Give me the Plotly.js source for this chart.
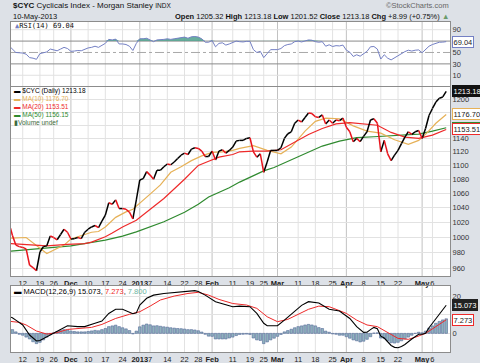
<!DOCTYPE html>
<html><head><meta charset="utf-8">
<script src="https://cdn.plot.ly/plotly-3.0.1.min.js"></script>
<style>html,body{margin:0;padding:0;background:#dde1e7;}#chart{width:480px;height:363px;}</style>
</head><body><div id="chart"></div>
<script>
// ---- trading days shown (Nov 6 2012 .. May 10 2013) ----
const nov2012 = [6,7,8,9,12,13,14,15,16,19,20,21,23,26,27,28,29,30];
const dec2012 = [3,4,5,6,7,10,11,12,13,14,17,18,19,20,21,24,26,27,28,31];
const jan2013 = [2,3,4,7,8,9,10,11,14,15,16,17,18,22,23,24,25,28,29,30,31];
const feb2013 = [1,4,5,6,7,8,11,12,13,14,15,19,20,21,22,25,26,27,28];
const mar2013 = [1,4,5,6,7,8,11,12,13,14,15,18,19,20,21,22,25,26,27,28];
const apr2013 = [1,2,3,4,5,8,9,10,11,12,15,16,17,18,19,22,23,24,25,26,29,30];
const may2013 = [1,2,3,6,7,8,9,10];

// ---- daily closes of $CYC ----
const close = [1020,1003,990,988,987,985,964,961,957,981,
 988,989,1002,1000,997,1004,1011,1007,998,998.5,
 1000,998.5,1007,1011,1014,1016,1013,1022,1030,1047,
 1045,1051,1039,1039,1038,1034,1025,1051,1079,1081,
 1091,1086,1080,1093,1093,1098,1102,1101,1105,1110,
 1115,1118,1116,1124,1126,1125,1121,1113,1113,1121,
 1108,1121,1123,1118,1122,1127,1136,1137,1137,1140,
 1141,1120,1112,1117,1090,1105,1122,1122,1122,1126,
 1140,1147,1150,1163,1168,1165,1172,1179,1178,1173,
 1172,1176,1162,1168,1163,1168,1167,1171,1157,1150,
 1135,1140,1135,1143,1150,1168,1170,1163,1120,1137,
 1117,1107,1115,1122,1132,1142,1150,1146,1150,1152,
 1140,1155,1175,1186,1196,1202,1204.19,1213.18];

// ---- moving averages (read at sample days) ----
const ma10Days = ['2012-11-06','2012-11-13','2012-11-21','2012-11-26','2012-11-29','2012-12-03','2012-12-06','2012-12-11','2012-12-13','2012-12-17','2012-12-20','2012-12-26','2012-12-28','2013-01-02','2013-01-07','2013-01-10','2013-01-15','2013-01-18','2013-01-24','2013-01-29','2013-02-01','2013-02-06','2013-02-11','2013-02-13','2013-02-20','2013-02-26','2013-03-04','2013-03-07','2013-03-13','2013-03-18','2013-03-21','2013-03-27','2013-04-01','2013-04-03','2013-04-09','2013-04-15','2013-04-19','2013-04-25','2013-04-30','2013-05-02','2013-05-07','2013-05-10'];
const ma10 = [999,1000,979,983,990,998,1002,1007,1008,1014,1027,1034.5,1038,1046,1059,1072,1090,1098,1107,1114,1119,1120,1122,1125,1129,1122,1117,1127,1151,1166,1171,1170,1165,1159,1151,1148,1138,1131,1137,1146,1163,1176.70];
const ma20Days = ['2012-11-06','2012-11-15','2012-11-21','2012-11-30','2012-12-07','2012-12-11','2012-12-17','2012-12-19','2012-12-24','2012-12-31','2013-01-04','2013-01-11','2013-01-22','2013-01-28','2013-01-31','2013-02-05','2013-02-11','2013-02-13','2013-02-20','2013-02-26','2013-03-04','2013-03-08','2013-03-14','2013-03-20','2013-03-26','2013-04-02','2013-04-08','2013-04-12','2013-04-18','2013-04-24','2013-04-30','2013-05-06','2013-05-10'];
const ma20 = [992,990,989,991,992,994,1001,1006,1014,1023,1034,1053,1080,1100,1106,1112,1116,1120,1121,1121,1123,1134,1146,1155,1162,1164,1162,1160,1149,1142,1140,1145,1153.51];
const ma50Days = ['2012-11-06','2012-11-15','2012-12-03','2012-12-17','2012-12-24','2012-12-31','2013-01-11','2013-01-22','2013-01-28','2013-01-31','2013-02-08','2013-02-13','2013-02-21','2013-02-25','2013-02-28','2013-03-07','2013-03-13','2013-03-20','2013-03-27','2013-04-04','2013-04-11','2013-04-18','2013-04-24','2013-04-30','2013-05-06','2013-05-10'];
const ma50 = [982,985,989,996.6,1001.8,1007.5,1021,1034,1045,1055,1068,1076,1088,1092,1097,1108,1118,1128.5,1136,1141,1142.5,1144,1145,1146.5,1151,1156.15];

// ---- RSI(14), daily ----
const rsi = [62,56,50,49.5,49,47,41,40,38,48,
 50,51,56,55,53,56,59,57,52,52.5,
 53.5,53,56,58,59,61,59,63,66,73,
 72,73.5,65,65,64,61,53.5,66,74,74,
 75,72,69,72,72,73,74,73,74,75,
 76,77,75,77.5,78,77,74,68,68,71,
 60,66,67,63,65,67,70,69,68.5,69.5,
 69.5,55,50,52,41,48,55,55,55,57,
 62,64,65,69,70,68.5,70.5,72,71.5,69,
 68,69,61,63.5,60.5,62,61.5,63,54,50.5,
 43,46,43.5,48,52,60,60.5,56,38.5,46,
 40,37,41,44,48,51.5,54,52.5,54,54.5,
 49.5,55,61,64,66,68,68.2,69.04];

// ---- MACD(12,26,9) ----
const macdDays = ['2012-11-06','2012-11-07','2012-11-08','2012-11-12','2012-11-14','2012-11-16','2012-11-19','2012-11-21','2012-11-26','2012-11-28','2012-11-30','2012-12-05','2012-12-07','2012-12-12','2012-12-14','2012-12-18','2012-12-20','2012-12-24','2012-12-28','2012-12-31','2013-01-02','2013-01-04','2013-01-08','2013-01-11','2013-01-16','2013-01-22','2013-01-25','2013-01-28','2013-01-30','2013-02-04','2013-02-07','2013-02-11','2013-02-13','2013-02-19','2013-02-21','2013-02-25','2013-02-26','2013-03-01','2013-03-05','2013-03-08','2013-03-12','2013-03-14','2013-03-19','2013-03-22','2013-03-27','2013-04-02','2013-04-04','2013-04-08','2013-04-09','2013-04-10','2013-04-11','2013-04-12','2013-04-15','2013-04-16','2013-04-17','2013-04-18','2013-04-19','2013-04-22','2013-04-23','2013-04-24','2013-04-26','2013-04-30','2013-05-01','2013-05-02','2013-05-03','2013-05-06','2013-05-07','2013-05-08','2013-05-09','2013-05-10'];
const macd = [9.0,8.4,7.1,4.5,-0.9,-4.1,-3.8,-1.8,0.5,2.5,4.1,3.6,3.6,5.4,6.6,10.7,12.9,12.9,10.5,11.0,15.2,18.8,20.5,21.4,22.0,22.7,22.9,22.5,20.5,17.0,15.2,14.3,14.6,14.3,10.7,5.4,4.1,4.1,7.1,11.6,15.0,17.0,16.3,12.9,12.0,8.0,3.6,0.5,0.6,2.0,3.2,2.5,-1.5,-2.5,-4.5,-6.5,-7.5,-7.7,-7.0,-6.0,-3.0,-0.5,-0.5,0.0,3.0,5.4,8.0,10.7,12.8,15.073];
const signalDays = ['2012-11-06','2012-11-07','2012-11-09','2012-11-13','2012-11-16','2012-11-21','2012-11-27','2012-11-30','2012-12-06','2012-12-11','2012-12-14','2012-12-20','2012-12-27','2013-01-02','2013-01-07','2013-01-10','2013-01-16','2013-01-23','2013-01-28','2013-01-31','2013-02-05','2013-02-11','2013-02-15','2013-02-21','2013-02-26','2013-03-01','2013-03-06','2013-03-11','2013-03-14','2013-03-19','2013-03-22','2013-03-26','2013-04-01','2013-04-04','2013-04-09','2013-04-12','2013-04-17','2013-04-22','2013-04-25','2013-04-29','2013-05-02','2013-05-07','2013-05-10'];
const signal = [6.5,6.25,5.9,4.5,1.25,-0.4,0.4,2.1,2.7,3.2,4.8,8.0,10.2,11.6,14.6,17.9,20.0,21.4,22.0,20.5,18.2,16.0,15.2,13.4,8.9,6.25,7.5,10.2,12.9,14.6,14.3,12.9,10.7,7.1,4.5,3.6,0.4,-2.7,-3.2,-2.1,0.0,3.6,7.273];
const hist = [2.5,2.0,0.8,-0.5,-1.0,-2.0,-3.0,-4.5,-5.5,-4.8,
 -3.5,-2.0,-0.8,0.3,1.0,1.5,2.0,1.8,1.2,1.0,
 0.8,0.8,0.8,1.0,1.3,1.6,1.4,2.0,2.6,3.6,
 4.0,4.4,3.6,3.0,2.4,1.5,-0.3,1.2,3.5,4.4,
 5.0,4.6,4.0,4.1,3.8,3.5,3.3,3.0,2.8,2.6,
 2.5,2.3,2.0,2.0,1.8,1.4,0.7,-0.5,-1.5,-1.6,
 -3.0,-3.0,-3.0,-3.0,-2.5,-2.0,-1.2,-0.6,-0.5,-0.4,
 -0.6,-2.5,-3.5,-3.8,-5.5,-4.6,-3.5,-2.6,-1.6,-0.6,
 0.8,1.5,2.2,3.0,3.6,4.0,4.5,4.8,4.5,4.0,
 3.1,2.6,1.2,0.6,-0.3,-0.5,-1.0,-1.0,-1.8,-2.6,
 -3.5,-4.0,-4.6,-4.2,-3.2,-1.8,0.2,0.3,-2.5,-2.8,
 -4.0,-5.0,-5.2,-4.8,-4.0,-3.0,-2.0,-1.0,0.0,0.6,
 0.3,1.2,2.8,4.0,5.4,6.4,7.2,7.8];

// ---- axis labels ----
const tickDates = ['2012-11-12','2012-11-19','2012-11-26','2012-12-03','2012-12-10','2012-12-17','2012-12-24','2013-01-02','2013-01-07','2013-01-14','2013-01-22','2013-01-28','2013-02-01','2013-02-11','2013-02-19','2013-02-25','2013-03-01','2013-03-11','2013-03-18','2013-03-25','2013-04-01','2013-04-08','2013-04-15','2013-04-22','2013-05-01','2013-05-06'];
const tickLabels = ['12','19','26','<b>Dec</b>','10','17','24','<b>2013</b>','7','14','22','28','<b>Feb</b>','11','19','25','<b>Mar</b>','11','18','25','<b>Apr</b>','8','15','22','<b>May</b>','6'];
const monthStarts = ['2012-12-03','2013-01-02','2013-02-01','2013-03-01','2013-04-01','2013-05-01'];
const priceTicks = [960,980,1000,1020,1040,1060,1080,1100,1120,1140,1160,1180,1200];
const priceTickText = ['960','980','1000','1020','1040','1060','1080','1100','1120','1140','','','1200'];
const rsiTicks = [10,30,50,70,90];
const rsiTickText = ['10','30','50','','90'];
const macdTicks = [0,10,20];
const macdTickText = ['0','','20'];

// ---- build ----
const pad = n => (n < 10 ? '0' : '') + n;
const dates = [].concat(
  nov2012.map(d => '2012-11-' + pad(d)), dec2012.map(d => '2012-12-' + pad(d)),
  jan2013.map(d => '2013-01-' + pad(d)), feb2013.map(d => '2013-02-' + pad(d)),
  mar2013.map(d => '2013-03-' + pad(d)), apr2013.map(d => '2013-04-' + pad(d)),
  may2013.map(d => '2013-05-' + pad(d)));

// up / down colored price segments
const upX = [], upY = [], dnX = [], dnY = [];
for (let i = 1; i < close.length; i++) {
  const up = close[i] >= close[i-1];
  const X = up ? upX : dnX, Y = up ? upY : dnY;
  X.push(dates[i-1], dates[i], dates[i]); Y.push(close[i-1], close[i], null);
}

const FONT = 'Liberation Sans, Arial, sans-serif';
const BLUE = '#7480c4', TAN = '#e6b157', RED = '#ee2a2a', GREEN = '#2f8a2f';

const traces = [
  {x: dates, y: dates.map(() => 70), xaxis: 'x', yaxis: 'y', mode: 'lines', line: {width: 0}, hoverinfo: 'skip'},
  {x: dates, y: rsi.map(v => Math.max(v, 70)), xaxis: 'x', yaxis: 'y', mode: 'lines', line: {width: 0}, fill: 'tonexty', fillcolor: 'rgba(78,160,140,0.85)'},
  {x: dates, y: rsi, xaxis: 'x', yaxis: 'y', mode: 'lines', line: {color: BLUE, width: 1}},
  {x: ma50Days, y: ma50, xaxis: 'x2', yaxis: 'y2', mode: 'lines', line: {color: GREEN, width: 1.2}},
  {x: ma10Days, y: ma10, xaxis: 'x2', yaxis: 'y2', mode: 'lines', line: {color: TAN, width: 1.2}},
  {x: ma20Days, y: ma20, xaxis: 'x2', yaxis: 'y2', mode: 'lines', line: {color: RED, width: 1.2}},
  {x: upX, y: upY, xaxis: 'x2', yaxis: 'y2', mode: 'lines', line: {color: '#000', width: 1.5}, connectgaps: false},
  {x: dnX, y: dnY, xaxis: 'x2', yaxis: 'y2', mode: 'lines', line: {color: '#e8141c', width: 1.5}, connectgaps: false},
  {x: dates, y: hist, xaxis: 'x3', yaxis: 'y3', type: 'bar', marker: {color: '#8fb2bd', line: {color: '#55699a', width: 0.6}}},
  {x: signalDays, y: signal, xaxis: 'x3', yaxis: 'y3', mode: 'lines', line: {color: RED, width: 1}},
  {x: macdDays, y: macd, xaxis: 'x3', yaxis: 'y3', mode: 'lines', line: {color: '#000', width: 1.1}}
];

const xBase = (anchor, labels) => ({
  type: 'category', categoryorder: 'array', categoryarray: dates, anchor: anchor,
  range: [0.6, 128.1], tickvals: tickDates, ticktext: tickLabels, showticklabels: labels,
  tickangle: 0, showgrid: false, showline: true, mirror: true,
  linecolor: '#8c8c8c', linewidth: 1, ticks: '', zeroline: false,
  tickfont: {family: FONT, size: 7.5, color: '#222'}, fixedrange: true
});
const yBase = (anchor) => ({
  anchor: anchor, side: 'right', showgrid: true, gridcolor: '#e2e2e2', showline: true,
  mirror: true, linecolor: '#8c8c8c', linewidth: 1, ticks: '', zeroline: false,
  tickfont: {family: FONT, size: 7.5, color: '#333'}, fixedrange: true
});

const shapes = [];
['x', 'x2', 'x3'].forEach((xa, k) => {
  const ya = ['y', 'y2', 'y3'][k];
  tickDates.forEach(d => {
    const isMonth = monthStarts.indexOf(d) >= 0;
    shapes.push({type: 'line', xref: xa, yref: ya + ' domain', x0: d, x1: d, y0: 0, y1: 1,
      line: {color: isMonth ? '#c2c2c2' : '#e2e2e2', width: 1}, layer: 'below'});
  });
});
[[10, '#e2e2e2', 'solid'], [90, '#e2e2e2', 'solid'], [70, '#8a8a8a', 'solid'], [30, '#8a8a8a', 'solid'], [50, '#a8a8a8', 'dashdot']].forEach(l =>
  shapes.push({type: 'line', xref: 'x domain', yref: 'y', x0: 0, x1: 1, y0: l[0], y1: l[0], line: {color: l[1], width: 1, dash: l[2]}, layer: 'below'}));

const px = v => (v - 11) / 439, py = v => (352 - v) / 330;
const note = (x, y, text, opts) => Object.assign({xref: 'paper', yref: 'paper', x: px(x), y: py(y), text: text,
  showarrow: false, xanchor: 'left', yanchor: 'middle', font: {family: FONT, size: 7.5, color: '#222'}}, opts || {});
const box = (yref, y, text, bg, border, color) => ({xref: 'paper', yref: yref, x: 1, y: y, text: text, showarrow: false,
  xanchor: 'left', yanchor: 'middle', xshift: 2, bgcolor: bg, bordercolor: border, borderwidth: 1, borderpad: 0.5,
  font: {family: FONT, size: 7.5, color: color}});

const LEG = 6.5;
const annotations = [
  note(11, 6, '<b>$CYC</b> Cyclicals Index - Morgan Stanley <span style="font-size:6.5px">INDX</span>', {font: {family: FONT, size: 8, color: '#111'}}),
  note(11, 16, '10-May-2013', {font: {family: FONT, size: 7.5, color: '#111'}}),
  note(451, 16, '<b>Open</b> 1205.32 <b>High</b> 1213.18 <b>Low</b> 1201.52 <b>Close</b> 1213.18 <b>Chg</b> +8.99 (+0.75%) <span style="color:#6a9a6a">▲</span>', {xanchor: 'right', font: {family: FONT, size: 7.5, color: '#111'}}),
  note(451, 6, '©StockCharts.com', {xanchor: 'right', font: {family: FONT, size: 7.5, color: '#666'}}),
  note(13, 25.5, '<span style="color:#7480c4">▲</span>RSI(14) 69.04', {font: {family: 'DejaVu Sans Mono, monospace', size: 7, color: '#111'}}),
  note(12, 91, '<span style="color:#000">▬</span> $CYC (Daily) 1213.18', {font: {family: FONT, size: LEG, color: '#000'}}),
  note(12, 99, '▬ MA(10) 1176.70', {font: {family: FONT, size: LEG, color: TAN}}),
  note(12, 107, '▬ MA(20) 1153.51', {font: {family: FONT, size: LEG, color: RED}}),
  note(12, 115, '▬ MA(50) 1156.15', {font: {family: FONT, size: LEG, color: GREEN}}),
  note(12, 123, '▮Volume undef', {font: {family: FONT, size: LEG, color: '#3d6b3d'}}),
  note(12, 291, '<span style="color:#000">▬</span> MACD(12,26,9) 15.073, <span style="color:#ee2a2a">7.273</span>, <span style="color:#6db5a3">7.800</span>', {font: {family: FONT, size: 7.5, color: '#000'}}),
  box('y', 69.04, '69.04', '#ffffff', BLUE, '#222'),
  box('y2', Math.log10(1156.15), '1156.15', '#ffffff', GREEN, '#222'),
  box('y2', Math.log10(1153.51), '1153.51', '#ffffff', RED, '#222'),
  box('y2', Math.log10(1176.70), '1176.70', '#ffffff', TAN, '#222'),
  box('y2', Math.log10(1213.18), '1213.18', '#111111', '#111111', '#ffffff'),
  box('y3', 7.273, '7.273', '#ffffff', RED, '#222'),
  box('y3', 15.073, '15.073', '#222222', '#222222', '#ffffff')
];

const layout = {
  width: 480, height: 363, margin: {l: 11, r: 30, t: 22, b: 11, pad: 0},
  paper_bgcolor: '#dde1e7', plot_bgcolor: '#ffffff', showlegend: false, hovermode: false,
  font: {family: FONT, size: 7.5, color: '#222'}, bargap: 0.25,
  xaxis: xBase('y', false), xaxis2: xBase('y2', true), xaxis3: xBase('y3', true),
  yaxis: Object.assign(yBase('x'), {domain: [0.8061, 1], range: [-8.8, 103.5], tickvals: rsiTicks, ticktext: rsiTickText, showgrid: false}),
  yaxis2: Object.assign(yBase('x2'), {domain: [0.2303, 0.8030], type: 'log', range: [2.9779, 3.0864], tickvals: priceTicks, ticktext: priceTickText}),
  yaxis3: Object.assign(yBase('x3'), {domain: [0, 0.2], range: [-10, 25.4], tickvals: macdTicks, ticktext: macdTickText}),
  shapes: shapes, annotations: annotations
};

Plotly.newPlot('chart', traces, layout, {staticPlot: true, displayModeBar: false});
</script></body></html>
